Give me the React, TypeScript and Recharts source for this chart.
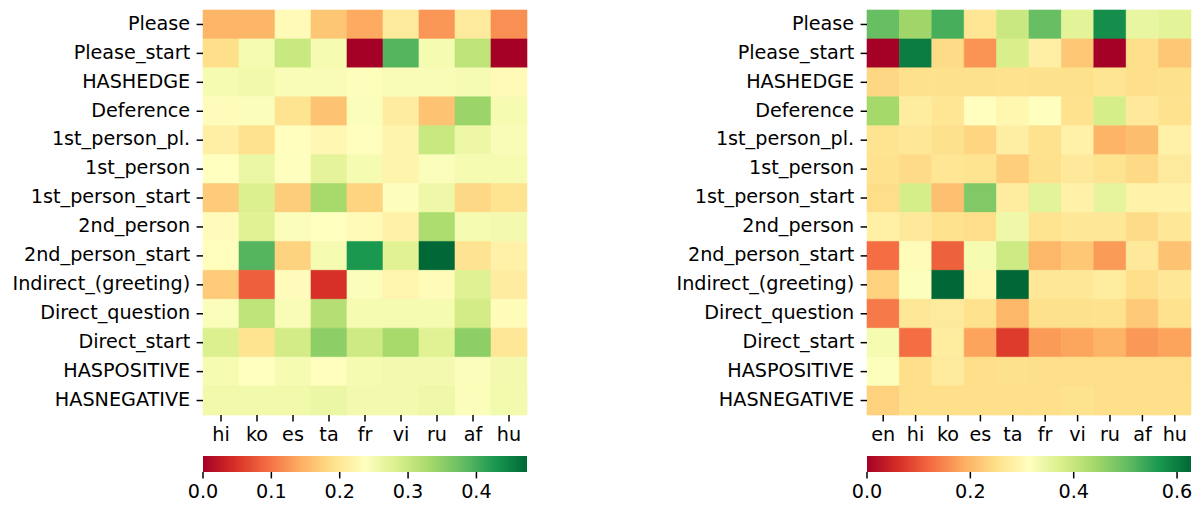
import { BarChart, Bar, XAxis, YAxis, Cell } from "recharts";

const features = [
  "Please", "Please_start", "HASHEDGE", "Deference", "1st_person_pl.", "1st_person",
  "1st_person_start", "2nd_person", "2nd_person_start", "Indirect_(greeting)",
  "Direct_question", "Direct_start", "HASPOSITIVE", "HASNEGATIVE",
];

const langsLeft = ["hi", "ko", "es", "ta", "fr", "vi", "ru", "af", "hu"];
const langsRight = ["en", "hi", "ko", "es", "ta", "fr", "vi", "ru", "af", "hu"];

// one row per feature, one value per language
const scoresLeft = [
  [0.15, 0.15, 0.23, 0.165, 0.14, 0.205, 0.125, 0.205, 0.12],
  [0.19, 0.25, 0.30, 0.25, 0.0, 0.39, 0.25, 0.31, 0.0],
  [0.25, 0.255, 0.245, 0.245, 0.24, 0.245, 0.245, 0.248, 0.23],
  [0.233, 0.242, 0.195, 0.162, 0.242, 0.21, 0.162, 0.34, 0.25],
  [0.212, 0.193, 0.236, 0.225, 0.236, 0.22, 0.30, 0.26, 0.245],
  [0.237, 0.262, 0.238, 0.27, 0.25, 0.22, 0.242, 0.25, 0.25],
  [0.17, 0.28, 0.172, 0.33, 0.178, 0.24, 0.258, 0.183, 0.195],
  [0.233, 0.275, 0.242, 0.237, 0.23, 0.215, 0.325, 0.25, 0.252],
  [0.235, 0.39, 0.177, 0.25, 0.427, 0.275, 0.474, 0.196, 0.215],
  [0.17, 0.085, 0.233, 0.047, 0.242, 0.222, 0.232, 0.277, 0.21],
  [0.242, 0.31, 0.245, 0.318, 0.25, 0.25, 0.25, 0.29, 0.232],
  [0.28, 0.195, 0.29, 0.35, 0.295, 0.33, 0.275, 0.35, 0.2],
  [0.25, 0.237, 0.25, 0.236, 0.25, 0.252, 0.252, 0.242, 0.252],
  [0.255, 0.255, 0.255, 0.262, 0.252, 0.252, 0.258, 0.242, 0.253],
];

const scoresRight = [
  [0.50, 0.445, 0.527, 0.262, 0.395, 0.50, 0.36, 0.577, 0.35, 0.36],
  [0.0, 0.60, 0.245, 0.163, 0.376, 0.282, 0.22, 0.0, 0.25, 0.22],
  [0.24, 0.252, 0.252, 0.252, 0.255, 0.252, 0.252, 0.26, 0.25, 0.252],
  [0.44, 0.275, 0.262, 0.312, 0.295, 0.315, 0.255, 0.38, 0.27, 0.255],
  [0.258, 0.265, 0.252, 0.238, 0.28, 0.255, 0.285, 0.195, 0.207, 0.285],
  [0.255, 0.245, 0.263, 0.258, 0.228, 0.252, 0.27, 0.257, 0.243, 0.272],
  [0.248, 0.38, 0.21, 0.475, 0.275, 0.36, 0.285, 0.355, 0.287, 0.287],
  [0.283, 0.27, 0.255, 0.248, 0.34, 0.258, 0.265, 0.265, 0.245, 0.265],
  [0.125, 0.305, 0.113, 0.33, 0.39, 0.2, 0.22, 0.17, 0.27, 0.215],
  [0.232, 0.318, 0.627, 0.295, 0.627, 0.265, 0.265, 0.275, 0.25, 0.265],
  [0.138, 0.265, 0.272, 0.255, 0.2, 0.252, 0.252, 0.254, 0.222, 0.255],
  [0.33, 0.125, 0.275, 0.178, 0.075, 0.17, 0.18, 0.195, 0.168, 0.178],
  [0.318, 0.25, 0.272, 0.248, 0.252, 0.25, 0.248, 0.248, 0.248, 0.248],
  [0.232, 0.25, 0.25, 0.25, 0.25, 0.25, 0.256, 0.25, 0.25, 0.25],
];

const maxLeft = 0.474;
const maxRight = 0.627;
const ticksLeft = [0, 0.1, 0.2, 0.3, 0.4];
const ticksRight = [0, 0.2, 0.4, 0.6];

const RDYLGN = ["#a50026", "#d73027", "#f46d43", "#fdae61", "#fee08b", "#ffffbf",
  "#d9ef8b", "#a6d96a", "#66bd63", "#1a9850", "#006837"];

const hex = (h: string) => [1, 3, 5].map((i) => parseInt(h.slice(i, i + 2), 16));

function rdylgn(t: number) {
  const p = Math.max(0, Math.min(1, t)) * 10;
  const i = Math.min(9, Math.floor(p));
  const f = p - i;
  const a = hex(RDYLGN[i]), b = hex(RDYLGN[i + 1]);
  const c = a.map((v, k) => Math.round(v + (b[k] - v) * f));
  return `rgb(${c[0]},${c[1]},${c[2]})`;
}

const FONT = "'DejaVu Sans', sans-serif";
const tickStyle = { fontSize: 19.2, fill: "#000", fontFamily: FONT };
const yTickStyle = { ...tickStyle, dy: -1.5 };
const tickLine = { stroke: "#000", strokeWidth: 1.5 };

function Heatmap({ langs, scores, max, left, yWidth, width }: {
  langs: string[]; scores: number[][]; max: number; left: number; yWidth: number; width: number;
}) {
  const data = features.map((f) => {
    const row: Record<string, string | number> = { feature: f };
    langs.forEach((_, j) => { row[`c${j}`] = 1; });
    return row;
  });
  return (
    <div style={{ position: "absolute", left, top: 0 }}>
      <BarChart width={width} height={460} data={data} layout="vertical"
        margin={{ top: 10, right: width - yWidth - 324, left: 0, bottom: 0 }}
        barCategoryGap={0} barGap={0}>
        <XAxis type="number" domain={[0, langs.length]} ticks={langs.map((_, j) => j + 0.5)}
          tickFormatter={(v: number) => langs[Math.floor(v)]} interval={0}
          axisLine={false} tickLine={tickLine} tickSize={6.4} tickMargin={6} 
          height={45} tick={tickStyle} />
        <YAxis type="category" dataKey="feature" width={yWidth} interval={0}
          axisLine={false} tickLine={tickLine} tickSize={6.4} tickMargin={6.4} tick={yTickStyle} />
        {langs.map((l, j) => (
          <Bar key={l} dataKey={`c${j}`} stackId="h" isAnimationActive={false}>
            {scores.map((row, i) => {
              const c = rdylgn(row[j] / max);
              return <Cell key={i} fill={c} stroke={c} strokeWidth={0.6} />;
            })}
          </Bar>
        ))}
      </BarChart>
    </div>
  );
}

function Colorbar({ id, max, ticks, left, yWidth, width }: {
  id: string; max: number; ticks: number[]; left: number; yWidth: number; width: number;
}) {
  return (
    <div style={{ position: "absolute", left, top: 450 }}>
      <BarChart width={width} height={60} data={[{ name: "cb", v: max }]} layout="vertical"
        margin={{ top: 6, right: width - yWidth - 324, left: yWidth, bottom: 0 }}
        barCategoryGap={0}>
        <defs>
          <linearGradient id={id} x1="0" y1="0" x2="1" y2="0">
            {RDYLGN.map((c, k) => <stop key={k} offset={`${k * 10}%`} stopColor={c} />)}
          </linearGradient>
        </defs>
        <XAxis type="number" domain={[0, max]} ticks={ticks} interval={0}
          tickFormatter={(v: number) => v.toFixed(1)} axisLine={false}
          tickLine={tickLine} tickSize={6.4} tickMargin={6.4} height={38} tick={tickStyle} />
        <YAxis type="category" dataKey="name" hide />
        <Bar dataKey="v" fill={`url(#${id})`} isAnimationActive={false} />
      </BarChart>
    </div>
  );
}

export default function App() {
  return (
    <div style={{ position: "absolute", left: 0, top: 0, width: 1202, height: 508, background: "#fff" }}>
      <Heatmap langs={langsLeft} scores={scoresLeft} max={maxLeft} left={0} yWidth={203} width={540} />
      <Colorbar id="cbL" max={maxLeft} ticks={ticksLeft} left={0} yWidth={203} width={540} />
      <Heatmap langs={langsRight} scores={scoresRight} max={maxRight} left={660} yWidth={207} width={542} />
      <Colorbar id="cbR" max={maxRight} ticks={ticksRight} left={660} yWidth={207} width={542} />
    </div>
  );
}
